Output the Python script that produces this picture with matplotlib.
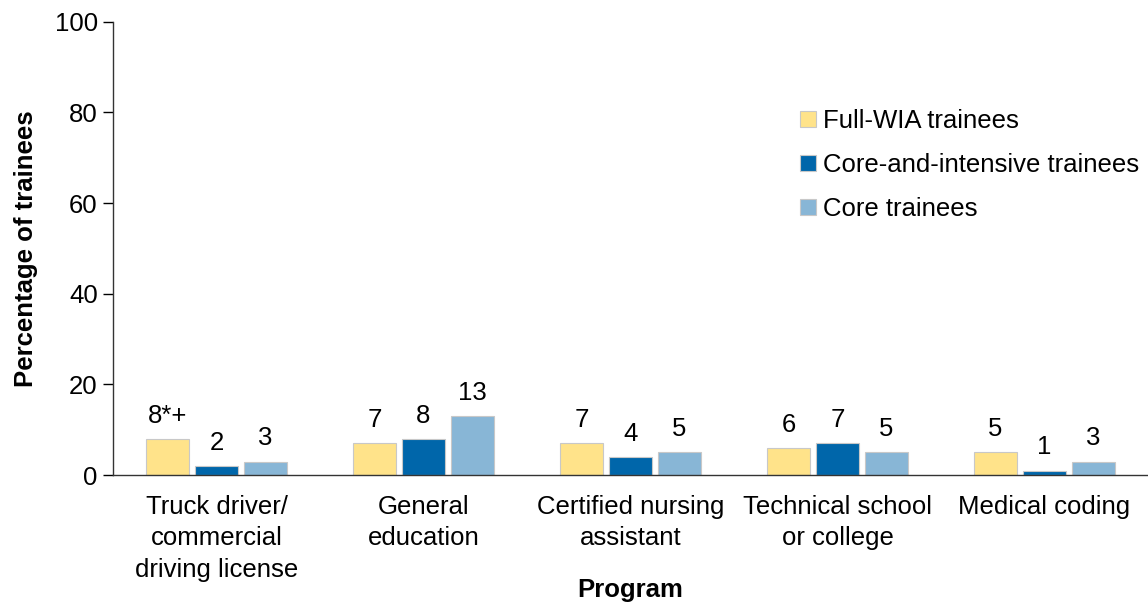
import numpy as np
import matplotlib.pyplot as plt

plt.rcParams['font.family'] = ['Liberation Sans', 'DejaVu Sans']

programs = ['Truck driver/\ncommercial\ndriving license', 'General\neducation',
            'Certified nursing\nassistant', 'Technical school\nor college', 'Medical coding']
series_names = ['Full-WIA trainees', 'Core-and-intensive trainees', 'Core trainees']
full_wia = [8, 7, 7, 6, 5]
core_intensive = [2, 8, 4, 7, 1]
core = [3, 13, 5, 5, 3]
full_wia_labels = ['8*+', '7', '7', '6', '5']
colors = ['#FFE38A', '#0066AA', '#88B6D6']

fs = 18.5

fig = plt.figure(figsize=(11.48, 6.06), dpi=100)
ax = fig.add_axes([0.0984, 0.216, 0.9016, 0.748])

x = np.arange(len(programs))
width = 0.205
step = 0.237
values = [full_wia, core_intensive, core]
for i, (vals, name, col) in enumerate(zip(values, series_names, colors)):
    bars = ax.bar(x + (i - 1) * step, vals, width, color=col, edgecolor='#C8C8C8',
                  linewidth=0.8, label=name)
    labels = full_wia_labels if i == 0 else [str(v) for v in vals]
    ax.bar_label(bars, labels=labels, padding=8, fontsize=fs)

ax.set_xlim(-0.5, len(programs) - 0.5)
ax.set_ylim(0, 100)
ax.set_yticks(range(0, 101, 20))
ax.set_xticks(x)
ax.set_xticklabels(programs, fontsize=fs, linespacing=1.4)
ax.tick_params(axis='x', length=0, pad=14)
ax.tick_params(axis='y', labelsize=fs, length=7, width=1, pad=4)
for s in ['top', 'right']:
    ax.spines[s].set_visible(False)
for s in ['left', 'bottom']:
    ax.spines[s].set_linewidth(1)
    ax.spines[s].set_color('#333333')

ax.set_xlabel('Program', fontsize=fs, fontweight='bold', labelpad=-3)
ax.set_ylabel('Percentage of trainees', fontsize=fs, fontweight='bold', labelpad=12)

ax.legend(loc='upper left', bbox_to_anchor=(0.654, 0.83), frameon=False, fontsize=fs,
          handlelength=0.6, handleheight=0.6, handletextpad=0.3, labelspacing=0.78,
          borderaxespad=0)

fig.savefig('out.png', dpi=100)
